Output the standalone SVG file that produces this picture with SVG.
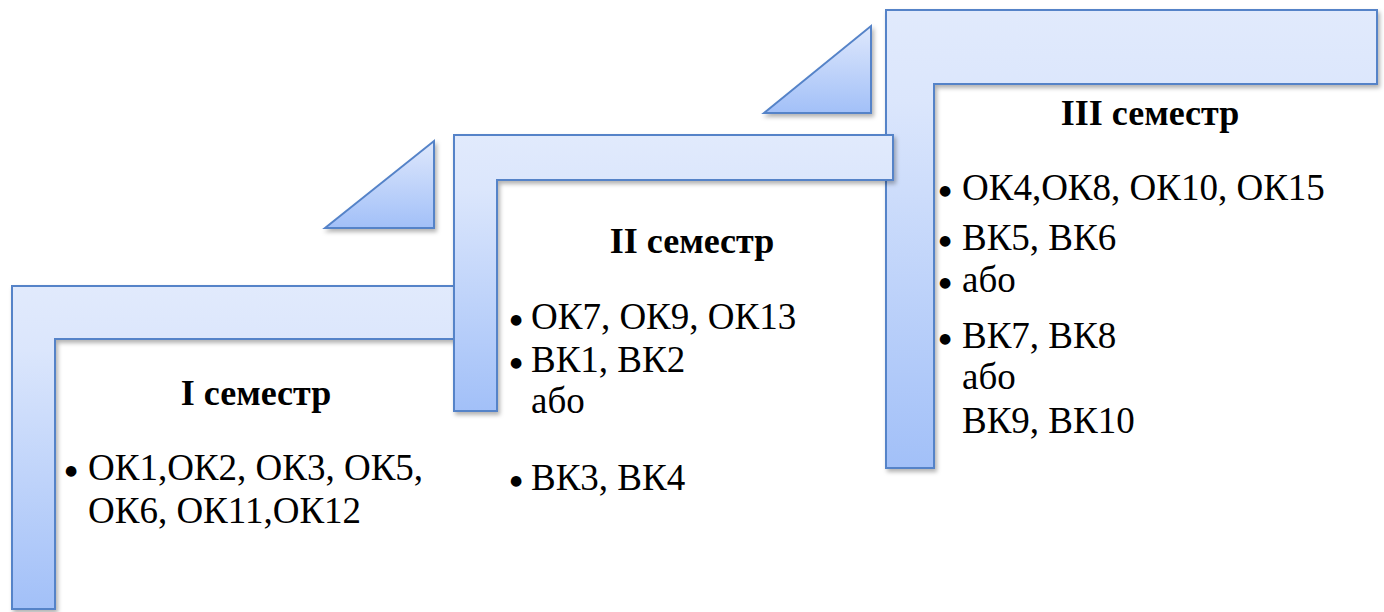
<svg xmlns="http://www.w3.org/2000/svg" width="1384" height="612" viewBox="0 0 1384 612">
<defs>
<linearGradient id="g" x1="0" y1="0" x2="0" y2="1">
<stop offset="0" stop-color="#e1eafc"/>
<stop offset="0.2" stop-color="#dbe6fc"/>
<stop offset="1" stop-color="#a2c0f8"/>
</linearGradient>
<linearGradient id="gt" x1="0" y1="0" x2="0" y2="1">
<stop offset="0" stop-color="#dfe8fc"/>
<stop offset="1" stop-color="#a2c0f8"/>
</linearGradient>
<filter id="sh" x="-10%" y="-10%" width="120%" height="120%">
<feDropShadow dx="2" dy="3" stdDeviation="2" flood-color="#000" flood-opacity="0.3"/>
</filter>
</defs>
<style>
.sh{fill:url(#g);stroke:#5583c8;stroke-width:2;filter:url(#sh)}
.tr{fill:url(#gt);stroke:#5583c8;stroke-width:2;filter:url(#sh)}
.h{font-family:"Liberation Serif","Times New Roman",serif;font-weight:bold;font-size:36px;fill:#000;text-anchor:middle}
.t{font-family:"Liberation Serif","Times New Roman",serif;font-size:37px;fill:#000}
.b{font-family:"DejaVu Sans",sans-serif;font-size:14px;fill:#000;text-anchor:middle}
</style>
<g id="stage1">
<path class="sh" d="M12,286 H470 V339 H55 V609 H12 Z"/>
</g>
<g id="arrow1">
<path class="tr" d="M325,228 L434,141 V228 Z"/>
</g>
<g id="stage3">
<path class="sh" d="M886,10 H1377 V84 H934 V468 H886 Z"/>
</g>
<g id="arrow2">
<path class="tr" d="M764,113 L871,26 V113 Z"/>
</g>
<g id="stage2">
<path class="sh" d="M454,135 H893 V180 H497 V411 H454 Z"/>
</g>
<g id="text1">
<text class="h" x="256" y="405">I семестр</text>
<text class="b" x="71" y="475">●</text>
<text class="t" x="88" y="480">ОК1,ОК2, ОК3, ОК5,</text>
<text class="t" x="88" y="523">ОК6, ОК11,ОК12</text>
</g>
<g id="text2">
<text class="h" x="692" y="253">II семестр</text>
<text class="b" x="516" y="324">●</text>
<text class="t" x="531" y="329">ОК7, ОК9, ОК13</text>
<text class="b" x="516" y="367">●</text>
<text class="t" x="531" y="372">ВК1, ВК2</text>
<text class="t" x="531" y="413">або</text>
<text class="b" x="516" y="485">●</text>
<text class="t" x="531" y="490">ВК3, ВК4</text>
</g>
<g id="text3">
<text class="h" x="1150" y="125">III семестр</text>
<text class="b" x="945" y="195">●</text>
<text class="t" x="962" y="200">ОК4,ОК8, ОК10, ОК15</text>
<text class="b" x="945" y="245">●</text>
<text class="t" x="962" y="250">ВК5, ВК6</text>
<text class="b" x="945" y="287">●</text>
<text class="t" x="962" y="292">або</text>
<text class="b" x="945" y="343">●</text>
<text class="t" x="962" y="348">ВК7, ВК8</text>
<text class="t" x="962" y="389">або</text>
<text class="t" x="962" y="433">ВК9, ВК10</text>
</g>
</svg>
